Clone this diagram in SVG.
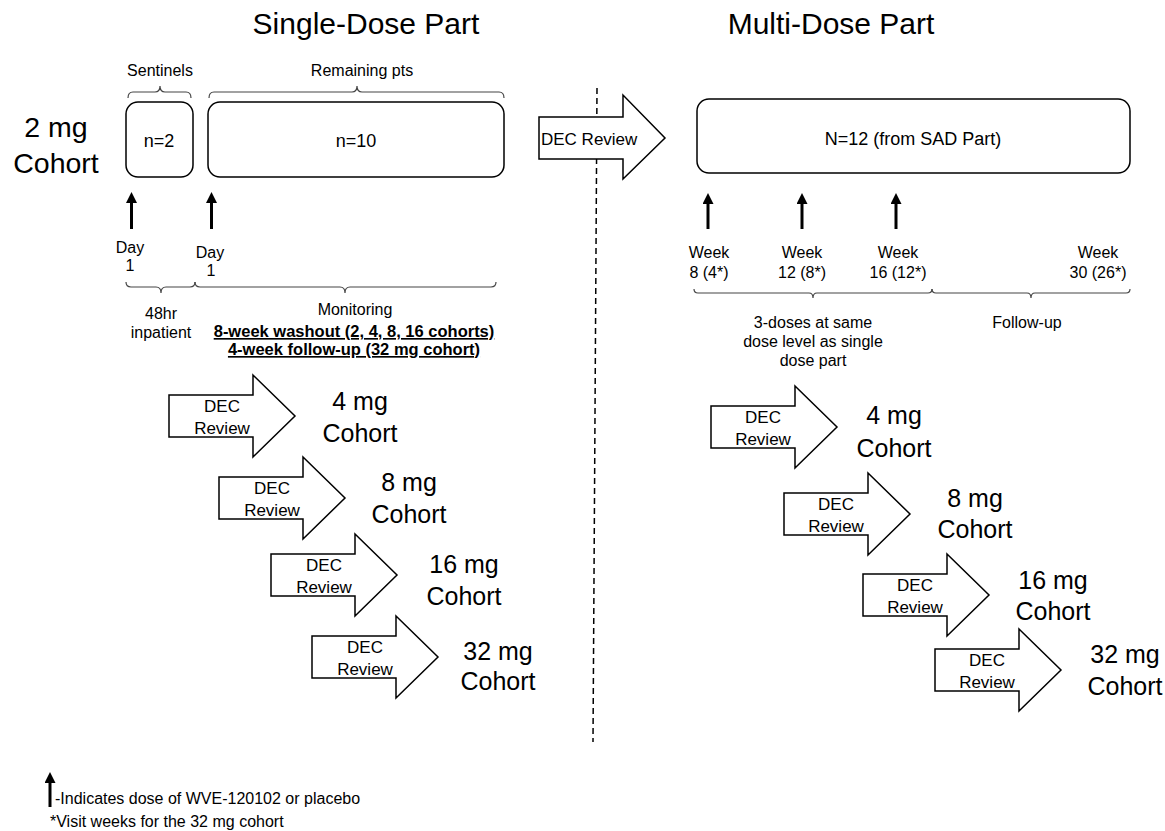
<svg xmlns="http://www.w3.org/2000/svg" xmlns:xlink="http://www.w3.org/1999/xlink" width="1165" height="831" viewBox="0 0 1165 831">
<style>
text{font-family:"Liberation Sans",Arial,sans-serif;fill:#000;}
.title{font-size:30px;text-anchor:middle;}
.cohort{font-size:25px;text-anchor:middle;}
.big{font-size:28.5px;text-anchor:middle;}
.lbl{font-size:16px;text-anchor:middle;}
.n{font-size:18px;text-anchor:middle;}
.dec{font-size:17px;text-anchor:middle;}
.bold{font-size:16.5px;font-weight:bold;text-anchor:middle;text-decoration:underline;}
.foot{font-size:16px;}
.box{fill:#fff;stroke:#000;stroke-width:1.5;}
.arr{fill:#fff;stroke:#000;stroke-width:1.5;stroke-linejoin:miter;}
.brace{fill:none;stroke:#444;stroke-width:1.2;}
.dose{stroke:#000;stroke-width:3;marker-end:url(#head);}
.dash{stroke:#000;stroke-width:1.5;stroke-dasharray:6 4;fill:none;}
</style>
<defs>
<marker id="head" markerUnits="userSpaceOnUse" markerWidth="11" markerHeight="11" refX="2" refY="5.5" orient="auto">
<path d="M0,0 L11,5.5 L0,11 Z" fill="#000"/>
</marker>
<path id="decArrow" class="arr" d="M0,-21 H84 V-41 L126,0 L84,41 V21 H0 Z"/>
</defs>
<rect width="1165" height="831" fill="#fff"/>

<g id="connectors">
<line class="dash" x1="597" y1="88" x2="593" y2="742"/>
<line class="dose" x1="131.5" y1="229" x2="131.5" y2="201"/>
<line class="dose" x1="211.5" y1="229" x2="211.5" y2="201"/>
<line class="dose" x1="708" y1="229" x2="708" y2="202"/>
<line class="dose" x1="802" y1="229" x2="802" y2="202"/>
<line class="dose" x1="896" y1="229" x2="896" y2="202"/>
<path class="brace" d="M128,98 Q128,92 133,92 H155 Q160,92 160,86 Q160,92 165,92 H186 Q191,92 191,98"/>
<path class="brace" d="M209,98 Q209,92 214,92 H352 Q357,92 357,86 Q357,92 362,92 H499 Q504,92 504,98"/>
<path class="brace" d="M126,282 Q126,287 131,287 H156 Q161,287 161,293 Q161,287 166,287 H190 Q195,287 195,282"/>
<path class="brace" d="M195,282 Q195,287 200,287 H340 Q345,287 345,293 Q345,287 350,287 H491 Q496,287 496,282"/>
<path class="brace" d="M694,289 Q694,293 698,293 H809 Q813,293 813,298 Q813,293 817,293 H928 Q932,293 932,289"/>
<path class="brace" d="M932,289 Q932,293 936,293 H1027 Q1031,293 1031,298 Q1031,293 1035,293 H1126 Q1130,293 1130,289"/>
</g>

<g id="title-single"><text class="title" x="366" y="34">Single-Dose Part</text></g>
<g id="title-multi"><text class="title" x="831" y="34">Multi-Dose Part</text></g>

<g id="cohort-2mg"><text class="big" x="56" y="137">2 mg</text><text class="big" x="56" y="173">Cohort</text></g>

<g id="sentinels">
<text class="lbl" x="160" y="76">Sentinels</text>
<rect class="box" x="126" y="102" width="67" height="75" rx="12"/>
<text class="n" x="159" y="147">n=2</text>
</g>
<g id="remaining">
<text class="lbl" x="362" y="76">Remaining pts</text>
<rect class="box" x="208" y="102" width="296" height="75" rx="12"/>
<text class="n" x="356" y="147">n=10</text>
</g>

<g id="day-labels">
<text class="lbl" x="130" y="253">Day</text><text class="lbl" x="130" y="271">1</text>
<text class="lbl" x="210" y="258">Day</text><text class="lbl" x="211" y="276">1</text>
<text class="lbl" x="161" y="319">48hr</text><text class="lbl" x="161" y="338">inpatient</text>
<text class="lbl" x="355" y="315">Monitoring</text>
<text class="bold" x="354" y="337">8-week washout (2, 4, 8, 16 cohorts)</text>
<text class="bold" x="354" y="355">4-week follow-up (32 mg cohort)</text>
</g>

<g id="dec-review-main">
<path class="arr" d="M539,117 H623 V95 L665,138 L623,179 V159 H539 Z"/>
<text x="541" y="145" style="font-size:17px">DEC Review</text>
</g>

<g id="mad-box">
<rect class="box" x="697" y="99" width="433" height="74" rx="12"/>
<text class="n" x="913" y="145">N=12 (from SAD Part)</text>
</g>

<g id="week-labels">
<text class="lbl" x="709" y="258">Week</text><text class="lbl" x="709" y="278">8 (4*)</text>
<text class="lbl" x="802" y="258">Week</text><text class="lbl" x="802" y="278">12 (8*)</text>
<text class="lbl" x="898" y="258">Week</text><text class="lbl" x="898" y="278">16 (12*)</text>
<text class="lbl" x="1098" y="258">Week</text><text class="lbl" x="1098" y="278">30 (26*)</text>
<text class="lbl" x="813" y="328">3-doses at same</text>
<text class="lbl" x="813" y="347">dose level as single</text>
<text class="lbl" x="813" y="366">dose part</text>
<text class="lbl" x="1027" y="328">Follow-up</text>
</g>

<g id="sad-4mg"><use xlink:href="#decArrow" x="169" y="416"/><text class="dec" x="222" y="412">DEC</text><text class="dec" x="222" y="434">Review</text><text class="cohort" x="360" y="410">4 mg</text><text class="cohort" x="360" y="442">Cohort</text></g>
<g id="sad-8mg"><use xlink:href="#decArrow" x="219" y="498"/><text class="dec" x="272" y="494">DEC</text><text class="dec" x="272" y="516">Review</text><text class="cohort" x="409" y="491">8 mg</text><text class="cohort" x="409" y="523">Cohort</text></g>
<g id="sad-16mg"><use xlink:href="#decArrow" x="271" y="575"/><text class="dec" x="324" y="571">DEC</text><text class="dec" x="324" y="593">Review</text><text class="cohort" x="464" y="573">16 mg</text><text class="cohort" x="464" y="605">Cohort</text></g>
<g id="sad-32mg"><use xlink:href="#decArrow" x="312" y="657"/><text class="dec" x="365" y="653">DEC</text><text class="dec" x="365" y="675">Review</text><text class="cohort" x="498" y="660">32 mg</text><text class="cohort" x="498" y="690">Cohort</text></g>

<g id="mad-4mg"><use xlink:href="#decArrow" x="711" y="427"/><text class="dec" x="763" y="423">DEC</text><text class="dec" x="763" y="445">Review</text><text class="cohort" x="894" y="424">4 mg</text><text class="cohort" x="894" y="457">Cohort</text></g>
<g id="mad-8mg"><use xlink:href="#decArrow" x="784" y="514"/><text class="dec" x="836" y="510">DEC</text><text class="dec" x="836" y="532">Review</text><text class="cohort" x="975" y="507">8 mg</text><text class="cohort" x="975" y="538">Cohort</text></g>
<g id="mad-16mg"><use xlink:href="#decArrow" x="863" y="595"/><text class="dec" x="915" y="591">DEC</text><text class="dec" x="915" y="613">Review</text><text class="cohort" x="1053" y="589">16 mg</text><text class="cohort" x="1053" y="620">Cohort</text></g>
<g id="mad-32mg"><use xlink:href="#decArrow" x="935" y="670"/><text class="dec" x="987" y="666">DEC</text><text class="dec" x="987" y="688">Review</text><text class="cohort" x="1125" y="663">32 mg</text><text class="cohort" x="1125" y="695">Cohort</text></g>

<g id="legend">
<line class="dose" x1="50" y1="807" x2="50" y2="781"/>
<text class="foot" x="55" y="804">-Indicates dose of WVE-120102 or placebo</text>
<text class="foot" x="50" y="827">*Visit weeks for the 32 mg cohort</text>
</g>
</svg>
